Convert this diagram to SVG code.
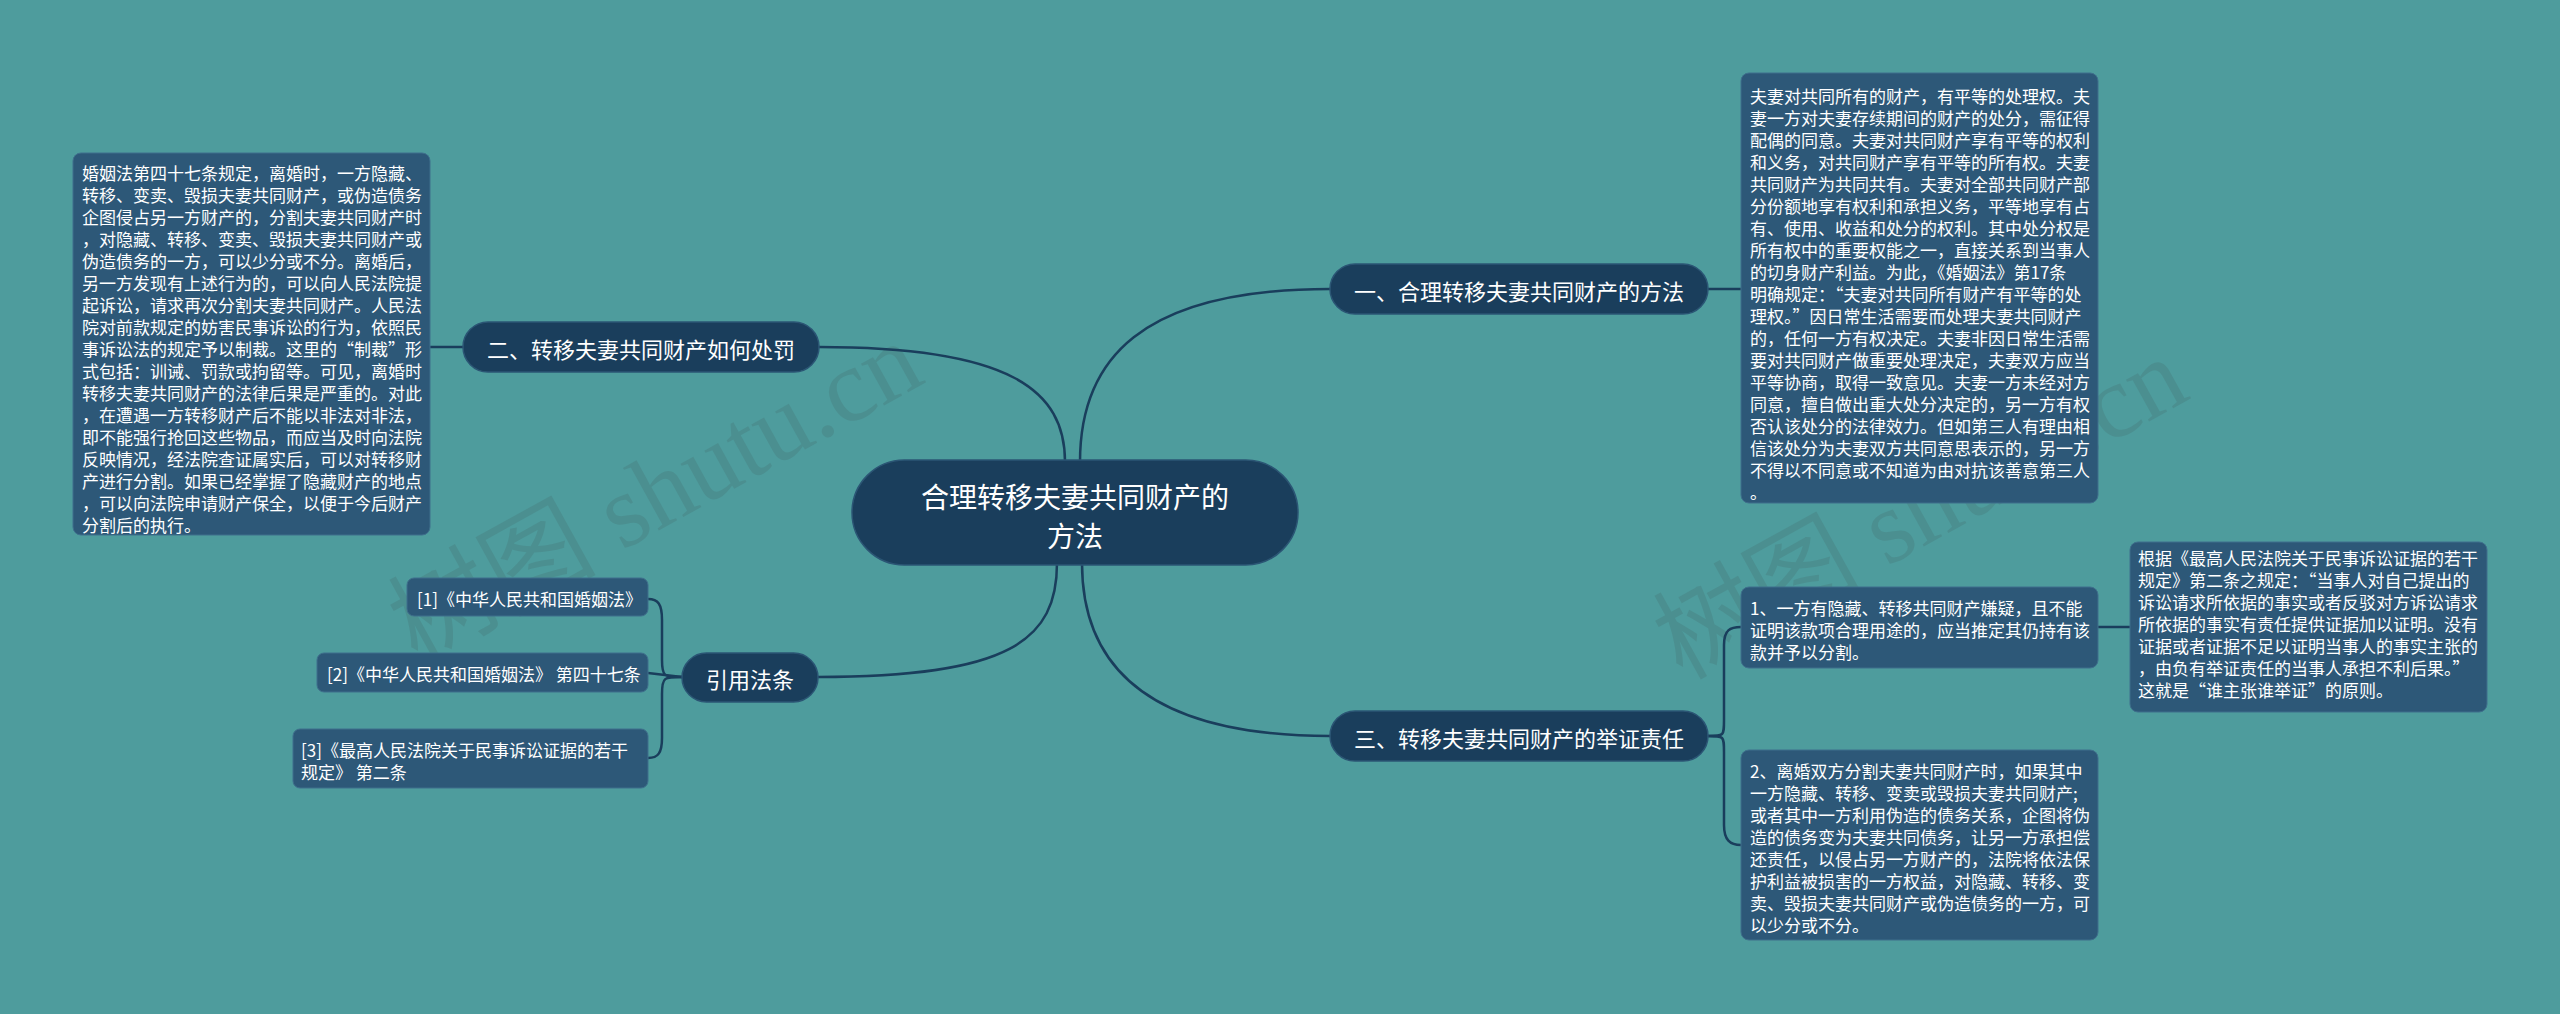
<svg xmlns="http://www.w3.org/2000/svg" width="2560" height="1014" viewBox="0 0 2560 1014">
<style>
.bg{fill:#4e9c9d}
.main{fill:#1a3e5c;stroke:#2b5574;stroke-width:1.5}
.l1{fill:#1a3e5c;stroke:#2b5574;stroke-width:1.5}
.box{fill:#2d5878;stroke:#3f6f8c;stroke-width:1}
.t{font-family:"Noto Sans CJK SC","Noto Sans",sans-serif;fill:#ffffff}
.tm{font-size:28px}
.t1{font-size:22px}
.ts{font-size:17px}
.con{fill:none;stroke:#1a3e5c;stroke-width:2.5}
.wm{font-family:"Liberation Serif","Noto Sans CJK SC",serif;font-size:104px;fill:#3c3c3c;opacity:0.13}
</style>
<rect class="bg" x="0" y="0" width="2560" height="1014"/>
<g id="watermarks">
<text class="wm" transform="translate(655,492) rotate(-29)" text-anchor="middle" dominant-baseline="central">树图 shutu.cn</text>
<text class="wm" transform="translate(1920,508) rotate(-29)" text-anchor="middle" dominant-baseline="central">树图 shutu.cn</text>
</g>
<g id="connectors">
<path class="con" d="M1080,462 C1080,360 1140,289 1330,289"/>
<path class="con" d="M1708,289 L1741,289"/>
<path class="con" d="M1065,462 C1065,390 1010,347 819,347"/>
<path class="con" d="M463,347 L430,347"/>
<path class="con" d="M1082,563 C1082,660 1140,736 1330,736"/>
<path class="con" d="M1057,563 C1057,640 1010,677 818,677"/>
<path class="con" d="M1708,736 C1724,736 1724,736 1724,720 L1724,645 C1724,630 1730,627 1741,627"/>
<path class="con" d="M1708,736 C1724,736 1724,736 1724,752 L1724,825 C1724,840 1730,845 1741,845"/>
<path class="con" d="M2098,627 L2130,627"/>
<path class="con" d="M682,677 C664,677 662,677 662,660 L662,620 C662,604 658,599 648,599"/>
<path class="con" d="M682,677 L648,673"/>
<path class="con" d="M682,677 C664,677 662,677 662,694 L662,738 C662,753 658,758 648,758"/>
</g>
<g id="center">
<rect class="main" x="852" y="460" width="446" height="105" rx="52.5"/>
<text class="t tm" x="1075" y="496" text-anchor="middle" dominant-baseline="central">合理转移夫妻共同财产的</text>
<text class="t tm" x="1075" y="535" text-anchor="middle" dominant-baseline="central">方法</text>
</g>
<g id="n1">
<rect class="l1" x="1330" y="264" width="378" height="50" rx="25"/>
<text class="t t1" x="1519" y="290" text-anchor="middle" dominant-baseline="central">一、合理转移夫妻共同财产的方法</text>
</g>
<g id="n1-text">
<rect class="box" x="1741" y="73" width="357" height="430" rx="8"/>
<text class="t ts" x="1750" dominant-baseline="central">
<tspan x="1750" y="95">夫妻对共同所有的财产，有平等的处理权。夫</tspan>
<tspan x="1750" y="117">妻一方对夫妻存续期间的财产的处分，需征得</tspan>
<tspan x="1750" y="139">配偶的同意。夫妻对共同财产享有平等的权利</tspan>
<tspan x="1750" y="161">和义务，对共同财产享有平等的所有权。夫妻</tspan>
<tspan x="1750" y="183">共同财产为共同共有。夫妻对全部共同财产部</tspan>
<tspan x="1750" y="205">分份额地享有权利和承担义务，平等地享有占</tspan>
<tspan x="1750" y="227">有、使用、收益和处分的权利。其中处分权是</tspan>
<tspan x="1750" y="249">所有权中的重要权能之一，直接关系到当事人</tspan>
<tspan x="1750" y="271">的切身财产利益。为此，《婚姻法》第17条</tspan>
<tspan x="1750" y="293">明确规定：“夫妻对共同所有财产有平等的处</tspan>
<tspan x="1750" y="315">理权。”因日常生活需要而处理夫妻共同财产</tspan>
<tspan x="1750" y="337">的，任何一方有权决定。夫妻非因日常生活需</tspan>
<tspan x="1750" y="359">要对共同财产做重要处理决定，夫妻双方应当</tspan>
<tspan x="1750" y="381">平等协商，取得一致意见。夫妻一方未经对方</tspan>
<tspan x="1750" y="403">同意，擅自做出重大处分决定的，另一方有权</tspan>
<tspan x="1750" y="425">否认该处分的法律效力。但如第三人有理由相</tspan>
<tspan x="1750" y="447">信该处分为夫妻双方共同意思表示的，另一方</tspan>
<tspan x="1750" y="469">不得以不同意或不知道为由对抗该善意第三人</tspan>
<tspan x="1750" y="491">。</tspan>
</text>
</g>
<g id="n2">
<rect class="l1" x="463" y="322" width="356" height="50" rx="25"/>
<text class="t t1" x="641" y="348" text-anchor="middle" dominant-baseline="central">二、转移夫妻共同财产如何处罚</text>
</g>
<g id="n2-text">
<rect class="box" x="73" y="153" width="357" height="382" rx="8"/>
<text class="t ts" x="82" dominant-baseline="central">
<tspan x="82" y="172">婚姻法第四十七条规定，离婚时，一方隐藏、</tspan>
<tspan x="82" y="194">转移、变卖、毁损夫妻共同财产，或伪造债务</tspan>
<tspan x="82" y="216">企图侵占另一方财产的，分割夫妻共同财产时</tspan>
<tspan x="82" y="238">，对隐藏、转移、变卖、毁损夫妻共同财产或</tspan>
<tspan x="82" y="260">伪造债务的一方，可以少分或不分。离婚后，</tspan>
<tspan x="82" y="282">另一方发现有上述行为的，可以向人民法院提</tspan>
<tspan x="82" y="304">起诉讼，请求再次分割夫妻共同财产。人民法</tspan>
<tspan x="82" y="326">院对前款规定的妨害民事诉讼的行为，依照民</tspan>
<tspan x="82" y="348">事诉讼法的规定予以制裁。这里的“制裁”形</tspan>
<tspan x="82" y="370">式包括：训诫、罚款或拘留等。可见，离婚时</tspan>
<tspan x="82" y="392">转移夫妻共同财产的法律后果是严重的。对此</tspan>
<tspan x="82" y="414">，在遭遇一方转移财产后不能以非法对非法，</tspan>
<tspan x="82" y="436">即不能强行抢回这些物品，而应当及时向法院</tspan>
<tspan x="82" y="458">反映情况，经法院查证属实后，可以对转移财</tspan>
<tspan x="82" y="480">产进行分割。如果已经掌握了隐藏财产的地点</tspan>
<tspan x="82" y="502">，可以向法院申请财产保全，以便于今后财产</tspan>
<tspan x="82" y="524">分割后的执行。</tspan>
</text>
</g>
<g id="n3">
<rect class="l1" x="1330" y="711" width="378" height="50" rx="25"/>
<text class="t t1" x="1519" y="737" text-anchor="middle" dominant-baseline="central">三、转移夫妻共同财产的举证责任</text>
</g>
<g id="n3-1">
<rect class="box" x="1741" y="587" width="357" height="81" rx="8"/>
<text class="t ts" dominant-baseline="central">
<tspan x="1750" y="607">1、一方有隐藏、转移共同财产嫌疑，且不能</tspan>
<tspan x="1750" y="629">证明该款项合理用途的，应当推定其仍持有该</tspan>
<tspan x="1750" y="651">款并予以分割。</tspan>
</text>
</g>
<g id="n3-1-1">
<rect class="box" x="2130" y="542" width="357" height="170" rx="8"/>
<text class="t ts" dominant-baseline="central">
<tspan x="2138" y="557">根据《最高人民法院关于民事诉讼证据的若干</tspan>
<tspan x="2138" y="579">规定》第二条之规定：“当事人对自己提出的</tspan>
<tspan x="2138" y="601">诉讼请求所依据的事实或者反驳对方诉讼请求</tspan>
<tspan x="2138" y="623">所依据的事实有责任提供证据加以证明。没有</tspan>
<tspan x="2138" y="645">证据或者证据不足以证明当事人的事实主张的</tspan>
<tspan x="2138" y="667">，由负有举证责任的当事人承担不利后果。”</tspan>
<tspan x="2138" y="689">这就是“谁主张谁举证”的原则。</tspan>
</text>
</g>
<g id="n3-2">
<rect class="box" x="1741" y="750" width="357" height="190" rx="8"/>
<text class="t ts" dominant-baseline="central">
<tspan x="1750" y="770">2、离婚双方分割夫妻共同财产时，如果其中</tspan>
<tspan x="1750" y="792">一方隐藏、转移、变卖或毁损夫妻共同财产;</tspan>
<tspan x="1750" y="814">或者其中一方利用伪造的债务关系，企图将伪</tspan>
<tspan x="1750" y="836">造的债务变为夫妻共同债务，让另一方承担偿</tspan>
<tspan x="1750" y="858">还责任，以侵占另一方财产的，法院将依法保</tspan>
<tspan x="1750" y="880">护利益被损害的一方权益，对隐藏、转移、变</tspan>
<tspan x="1750" y="902">卖、毁损夫妻共同财产或伪造债务的一方，可</tspan>
<tspan x="1750" y="924">以少分或不分。</tspan>
</text>
</g>
<g id="n4">
<rect class="l1" x="682" y="653" width="136" height="49" rx="24.5"/>
<text class="t t1" x="750" y="678" text-anchor="middle" dominant-baseline="central">引用法条</text>
</g>
<g id="ref1">
<rect class="box" x="407" y="578" width="241" height="38" rx="7"/>
<text class="t ts" x="417" y="598" dominant-baseline="central">[1]《中华人民共和国婚姻法》</text>
</g>
<g id="ref2">
<rect class="box" x="317" y="653" width="331" height="39" rx="7"/>
<text class="t ts" x="327" y="673" dominant-baseline="central">[2]《中华人民共和国婚姻法》 第四十七条</text>
</g>
<g id="ref3">
<rect class="box" x="293" y="729" width="355" height="59" rx="7"/>
<text class="t ts" dominant-baseline="central">
<tspan x="301" y="749">[3]《最高人民法院关于民事诉讼证据的若干</tspan>
<tspan x="301" y="771">规定》 第二条</tspan>
</text>
</g>
</svg>
